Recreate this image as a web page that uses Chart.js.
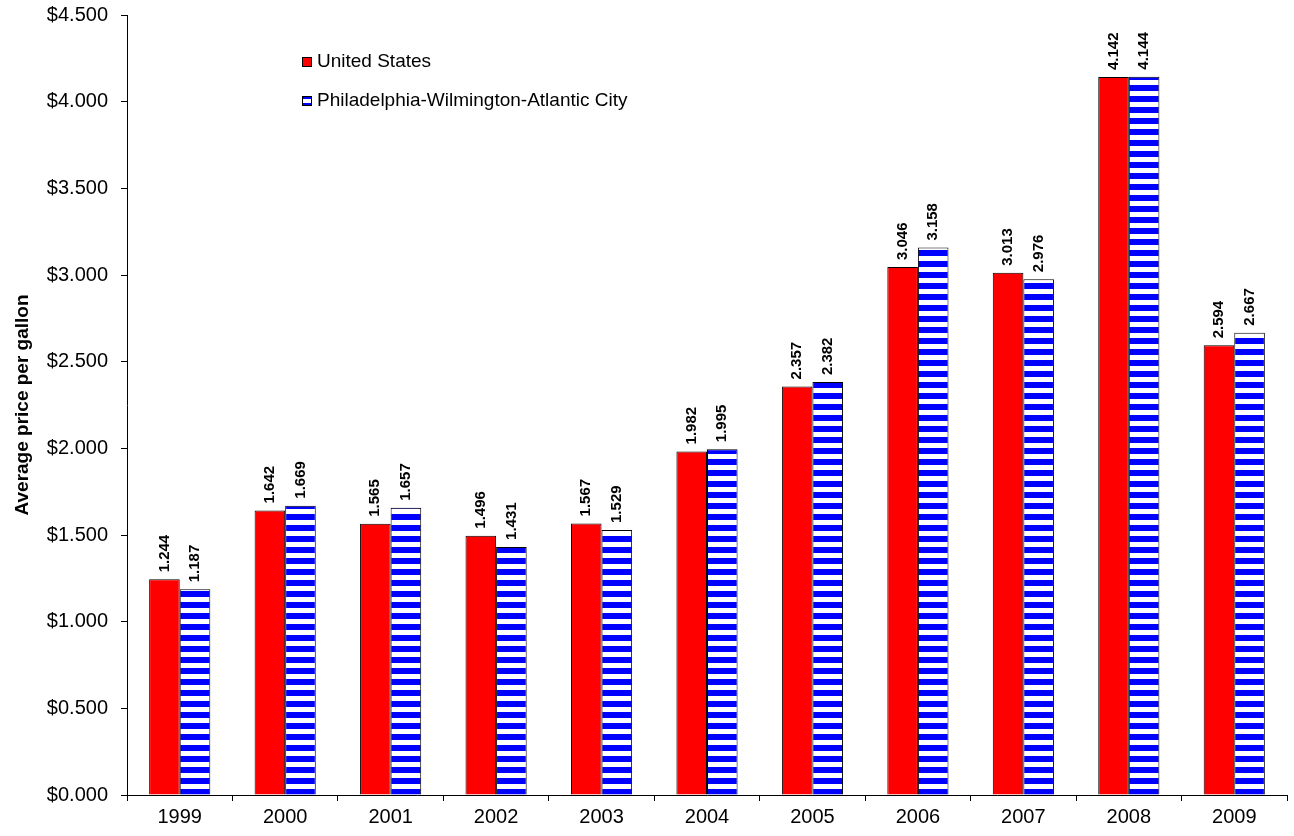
<!DOCTYPE html>
<html>
<head>
<meta charset="utf-8">
<script src="https://cdn.jsdelivr.net/npm/chart.js@4/dist/chart.umd.min.js"></script>
<style>
  html, body { margin: 0; padding: 0; background: #fff; }
  #wrap { width: 1294px; height: 836px; }
</style>
</head>
<body>
<div id="wrap"><canvas id="precios"></canvas></div>
<script>
const anios = ['1999', '2000', '2001', '2002', '2003', '2004', '2005', '2006', '2007', '2008', '2009']
const estados_unidos = [1.244, 1.642, 1.565, 1.496, 1.567, 1.982, 2.357, 3.046, 3.013, 4.142, 2.594]
const philadelphia = [1.187, 1.669, 1.657, 1.431, 1.529, 1.995, 2.382, 3.158, 2.976, 4.144, 2.667]
const nombres_series = ['United States', 'Philadelphia-Wilmington-Atlantic City']

const fuente = "'Liberation Sans', Arial, sans-serif"

// patron de rayas horizontales azul / blanco
const tile = document.createElement('canvas')
tile.width = 8
tile.height = 11
const tctx = tile.getContext('2d')
tctx.fillStyle = '#ffffff'
tctx.fillRect(0, 0, 8, 5)
tctx.fillStyle = '#0000ff'
tctx.fillRect(0, 5, 8, 6)

const ctx = document.getElementById('precios').getContext('2d')
const rayas = ctx.createPattern(tile, 'repeat')

const alinearRayas = {
    id: 'alinearRayas',
    beforeDatasetsDraw(chart) {
        const base = chart.scales.y.getPixelForValue(0)
        if (rayas.setTransform) rayas.setTransform(new DOMMatrix().translate(0, base))
    }
}

// etiquetas verticales sobre cada barra
const etiquetas = {
    id: 'etiquetas',
    afterDatasetsDraw(chart) {
        const c = chart.ctx
        c.save()
        c.font = 'bold 15px ' + fuente
        c.fillStyle = '#000'
        c.textAlign = 'left'
        c.textBaseline = 'middle'
        chart.data.datasets.forEach((ds, i) => {
            chart.getDatasetMeta(i).data.forEach((bar, j) => {
                c.save()
                c.translate(bar.x, bar.y - 7)
                c.rotate(-Math.PI / 2)
                c.fillText(ds.data[j].toFixed(3), 0, 0)
                c.restore()
            })
        })
        c.restore()
    }
}

// leyenda dentro del area del grafico
const leyenda = {
    id: 'leyenda',
    afterDraw(chart) {
        const c = chart.ctx
        c.save()
        c.font = '19px ' + fuente
        c.textBaseline = 'middle'
        const x = 302
        const filas = [62, 101]
        c.strokeStyle = '#000'
        c.lineWidth = 1
        // caja roja
        c.fillStyle = '#ff0000'
        c.fillRect(x, filas[0] - 5, 10, 10)
        c.strokeRect(x + 0.5, filas[0] - 4.5, 9, 9)
        // caja rayada
        c.fillStyle = '#0000ff'
        c.fillRect(x, filas[1] - 5, 10, 10)
        c.fillStyle = '#ffffff'
        c.fillRect(x + 1, filas[1] - 2, 8, 4)
        c.strokeRect(x + 0.5, filas[1] - 4.5, 9, 9)
        c.fillStyle = '#000'
        c.fillText(nombres_series[0], x + 15, filas[0])
        c.fillText(nombres_series[1], x + 15, filas[1])
        c.restore()
    }
}

new Chart(ctx, {
    type: 'bar',
    data: {
        labels: anios,
        datasets: [{
            label: nombres_series[0],
            data: estados_unidos,
            backgroundColor: '#ff0000',
            borderColor: '#000',
            borderWidth: 1
        }, {
            label: nombres_series[1],
            data: philadelphia,
            backgroundColor: rayas,
            borderColor: '#000',
            borderWidth: 1
        }]
    },
    options: {
        responsive: true,
        maintainAspectRatio: false,
        animation: false,
        devicePixelRatio: 1,
        layout: { padding: { left: 0, top: 15, right: 7, bottom: 0 } },
        datasets: { bar: { categoryPercentage: 0.58, barPercentage: 1.0 } },
        scales: {
            x: {
                offset: true,
                grid: { offset: true, drawOnChartArea: false, tickLength: 6, color: '#000' },
                border: { color: '#000', width: 1 },
                ticks: { color: '#000', font: { size: 20, family: fuente }, padding: 4, maxRotation: 0 },
                afterFit(scale) { scale.height = 41 }
            },
            y: {
                min: 0,
                max: 4.5,
                grid: { drawOnChartArea: false, tickLength: 6, color: '#000' },
                border: { color: '#000', width: 1 },
                ticks: {
                    stepSize: 0.5,
                    color: '#000',
                    padding: 13,
                    font: { size: 20, family: fuente },
                    callback: v => '$' + Number(v).toFixed(3)
                },
                title: {
                    display: true,
                    text: 'Average price per gallon',
                    color: '#000',
                    font: { size: 19, weight: 'bold', family: fuente },
                    padding: { top: 11, bottom: 0 }
                },
                afterFit(scale) {
                    scale.width = 127
                    scale.paddingTop = 0
                    scale.paddingBottom = 0
                }
            }
        },
        plugins: {
            legend: { display: false },
            tooltip: { enabled: false }
        }
    },
    plugins: [alinearRayas, etiquetas, leyenda]
});
</script>
</body>
</html>
